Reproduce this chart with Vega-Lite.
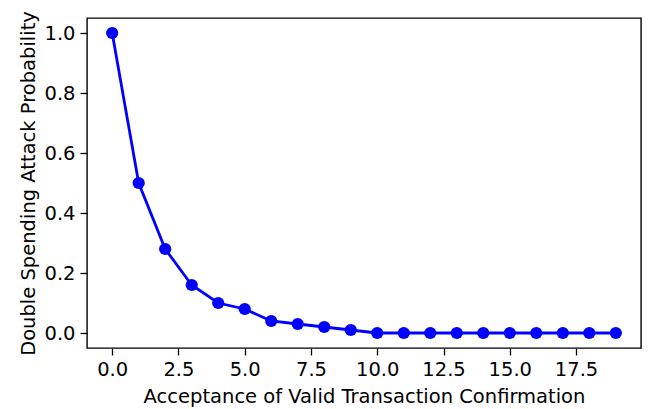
{
  "$schema": "https://vega.github.io/schema/vega-lite/v6.json",
  "width": 554,
  "height": 330,
  "autosize": {"type": "none"},
  "padding": {"left": 87, "top": 18, "right": 8, "bottom": 61},
  "config": {
    "font": "DejaVu Sans",
    "view": {"stroke": "#000", "strokeWidth": 1.4}
  },
  "data": {
    "values": [
      {"c": 0, "p": 1.0},
      {"c": 1, "p": 0.5},
      {"c": 2, "p": 0.28},
      {"c": 3, "p": 0.16},
      {"c": 4, "p": 0.10},
      {"c": 5, "p": 0.08},
      {"c": 6, "p": 0.04},
      {"c": 7, "p": 0.03},
      {"c": 8, "p": 0.02},
      {"c": 9, "p": 0.01},
      {"c": 10, "p": 0.0},
      {"c": 11, "p": 0.0},
      {"c": 12, "p": 0.0},
      {"c": 13, "p": 0.0},
      {"c": 14, "p": 0.0},
      {"c": 15, "p": 0.0},
      {"c": 16, "p": 0.0},
      {"c": 17, "p": 0.0},
      {"c": 18, "p": 0.0},
      {"c": 19, "p": 0.0}
    ]
  },
  "encoding": {
    "x": {
      "field": "c",
      "type": "quantitative",
      "scale": {"domain": [-0.95, 19.95], "nice": false, "zero": false},
      "axis": {
        "values": [0, 2.5, 5, 7.5, 10, 12.5, 15, 17.5], "format": ".1f",
        "title": "Acceptance of Valid Transaction Confirmation",
        "grid": false, "domain": false, "tickColor": "#000", "tickSize": 7, "tickWidth": 1.3,
        "labelColor": "#000", "labelFontSize": 19.5, "labelFont": "DejaVu Sans", "labelPadding": 5,
        "titleColor": "#000", "titleFontSize": 19.5, "titleFont": "DejaVu Sans", "titleFontWeight": "normal", "titlePadding": 9
      }
    },
    "y": {
      "field": "p",
      "type": "quantitative",
      "scale": {"domain": [-0.05, 1.05], "nice": false, "zero": false},
      "axis": {
        "values": [0, 0.2, 0.4, 0.6, 0.8, 1.0], "format": ".1f",
        "title": "Double Spending Attack Probability",
        "grid": false, "domain": false, "tickColor": "#000", "tickSize": 7, "tickWidth": 1.3,
        "labelColor": "#000", "labelFontSize": 19.5, "labelFont": "DejaVu Sans", "labelPadding": 5,
        "titleColor": "#000", "titleFontSize": 19.5, "titleFont": "DejaVu Sans", "titleFontWeight": "normal", "titlePadding": 5
      }
    }
  },
  "layer": [
    {"mark": {"type": "line", "color": "#0000ff", "strokeWidth": 2.8}},
    {"mark": {"type": "point", "filled": true, "color": "#0000ff", "opacity": 1, "size": 150}}
  ]
}
